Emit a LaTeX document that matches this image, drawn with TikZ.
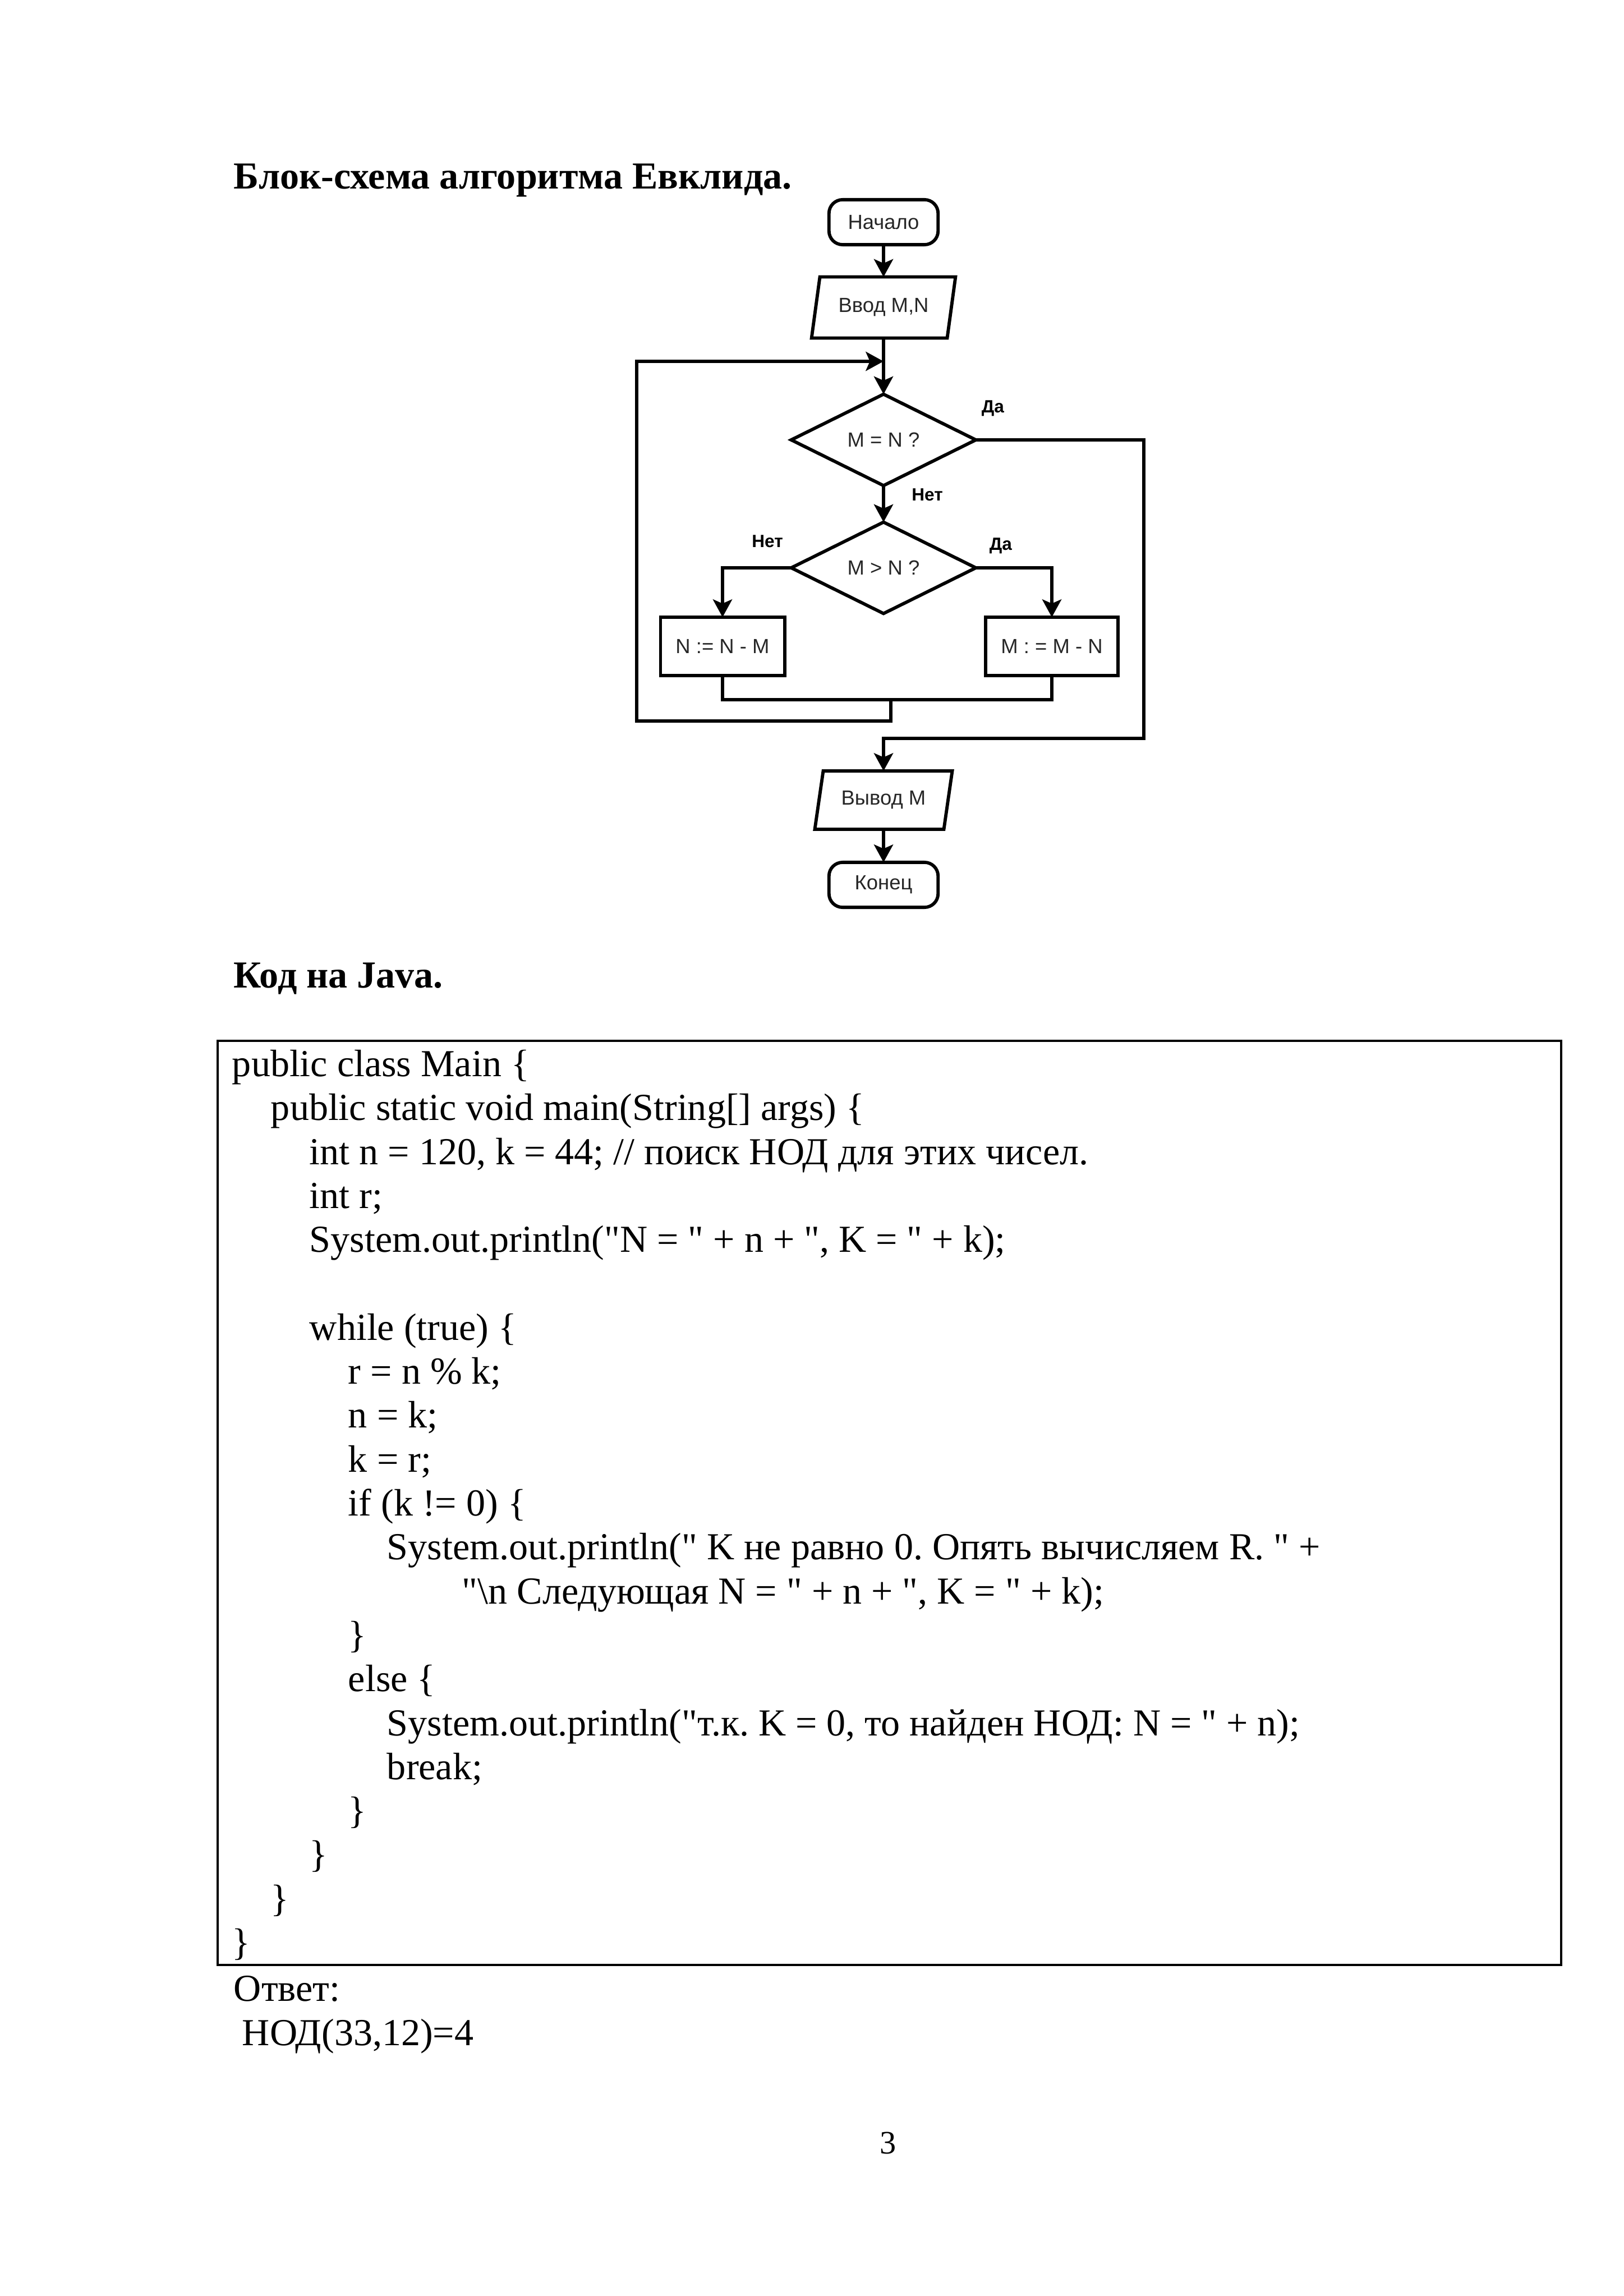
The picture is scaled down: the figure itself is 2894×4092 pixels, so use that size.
\documentclass[tikz,border=0pt]{standalone}
\usepackage{fontspec}
\setmainfont{Liberation Serif}[Ligatures=TeXOff]
\newfontfamily\flowfont{Liberation Sans}
\frenchspacing
\usetikzlibrary{arrows.meta, positioning, shapes.geometric, calc}
\tikzset{
	terminal/.style={rectangle, rounded corners=5pt, draw, line width=1.2pt, minimum width=40pt, minimum height=16.5pt, inner sep=0pt, outer sep=0pt, text=black!85, font=\flowfont\fontsize{7.5}{9}\selectfont},
	io/.style={trapezium, trapezium left angle=72, trapezium right angle=108, trapezium stretches=true, draw, line width=1.2pt, minimum width=52.8pt, minimum height=22.4pt, inner sep=0pt, outer sep=0pt, text=black!85, font=\flowfont\fontsize{7.5}{9}\selectfont},
	decision/.style={diamond, draw, line width=1.2pt, minimum width=67.7pt, minimum height=33.5pt, inner sep=0pt, outer sep=0pt, text=black!85, font=\flowfont\fontsize{7.5}{9}\selectfont},
	process/.style={rectangle, draw, line width=1.2pt, minimum width=45.5pt, minimum height=21.4pt, inner sep=0pt, outer sep=0pt, text=black!85, font=\flowfont\fontsize{7.5}{9}\selectfont},
	branch/.style={inner sep=0pt, font=\flowfont\bfseries\fontsize{6.5}{8}\selectfont},
	arrow/.style={-{Stealth[length=6.5pt, width=7pt, inset=1.5pt]}, line width=1.2pt},
	link/.style={line width=1.2pt},
	heading/.style={anchor=base west, inner sep=0pt, font=\bfseries\fontsize{14}{16.1}\selectfont},
	code/.style={anchor=base west, inner sep=0pt, font=\fontsize{14}{16.1}\selectfont},
}
\begin{document}
\begin{tikzpicture}[x=0.2057pt, y=-0.2057pt]
	\useasboundingbox (0,0) rectangle (2894,4092);
	\node[heading] (title) at (416,337) {Блок-схема алгоритма Евклида.};
	% flowchart
	\node[terminal] (start) at (1575,396) {Начало};
	\node[io] (input) at (1575,548) {Ввод M,N};
	\coordinate (join) at (1575,644);
	\node[decision] (equal) at (1575,784) {M = N ?};
	\node[decision] (greater) at (1575,1012) {M > N ?};
	\node[process] (subn) at (1288,1152) {N := N - M};
	\node[process, minimum width=48.5pt] (subm) at (1875,1152) {M : = M - N};
	\node[io, minimum width=50.4pt, minimum height=21.4pt] (output) at (1575,1426) {Вывод M};
	\node[terminal] (finish) at (1575,1577) {Конец};
	\coordinate (merge) at (1588,1247);
	\coordinate (loopbot) at (1588,1285);
	\coordinate (loopleft) at (1135,644);
	\coordinate (yesturn) at (2039,1316);
	\coordinate (outjoin) at (1575,1316);
	\node[branch] (yes1) at (1770,728) {Да};
	\node[branch] (no1) at (1653,882) {Нет};
	\node[branch] (no2) at (1368,965) {Нет};
	\node[branch] (yes2) at (1784,973) {Да};
	\draw[arrow] (start) -- (input);
	\draw[link] (input) -- (join);
	\draw[arrow] (join) -- (equal);
	\draw[arrow] (equal) -- (greater);
	\draw[arrow] (greater.west) -| (subn);
	\draw[arrow] (greater.east) -| (subm);
	\draw[link] (subn.south) -- (subn.south |- merge) -| (subm.south);
	\draw[arrow] (merge) -- (loopbot) -| (loopleft) -- (join);
	\draw[arrow] (equal.east) -| (yesturn) -- (outjoin) -- (output);
	\draw[arrow] (output) -- (finish);
	% java code
	\node[heading] (javatitle) at (416,1760) {Код на Java.};
	\draw[line width=0.7pt] (388,1855) rectangle (2783,3502);
	\node[code] (l0) at (413,1918) {public class Main \{};
	\node[code] (l1) at (482,1996) {public static void main(String[] args) \{};
	\node[code] (l2) at (551,2075) {int n = 120, k = 44; // поиск НОД для этих чисел.};
	\node[code] (l3) at (551,2153) {int r;};
	\node[code] (l4) at (551,2231) {System.out.println("N = " + n + ", K = " + k);};
	\node[code] (l6) at (551,2388) {while (true) \{};
	\node[code] (l7) at (620,2466) {r = n \% k;};
	\node[code] (l8) at (620,2544) {n = k;};
	\node[code] (l9) at (620,2623) {k = r;};
	\node[code] (l10) at (620,2701) {if (k != 0) \{};
	\node[code] (l11) at (689,2779) {System.out.println(" K не равно 0. Опять вычисляем R. " +};
	\node[code] (l12) at (823,2858) {"\textbackslash n Следующая N = " + n + ", K = " + k);};
	\node[code] (l13) at (620,2936) {\}};
	\node[code] (l14) at (620,3014) {else \{};
	\node[code] (l15) at (689,3093) {System.out.println("т.к. K = 0, то найден НОД: N = " + n);};
	\node[code] (l16) at (689,3171) {break;};
	\node[code] (l17) at (620,3249) {\}};
	\node[code] (l18) at (551,3327) {\}};
	\node[code] (l19) at (482,3406) {\}};
	\node[code] (l20) at (413,3484) {\}};
	\node[code] (answer) at (416,3566) {Ответ:};
	\node[code] (gcd) at (431,3645) {НОД(33,12)=4};
	\node[anchor=base, inner sep=0pt, font=\fontsize{12}{14}\selectfont] (pagenum) at (1583,3838) {3};
\end{tikzpicture}
\end{document}
